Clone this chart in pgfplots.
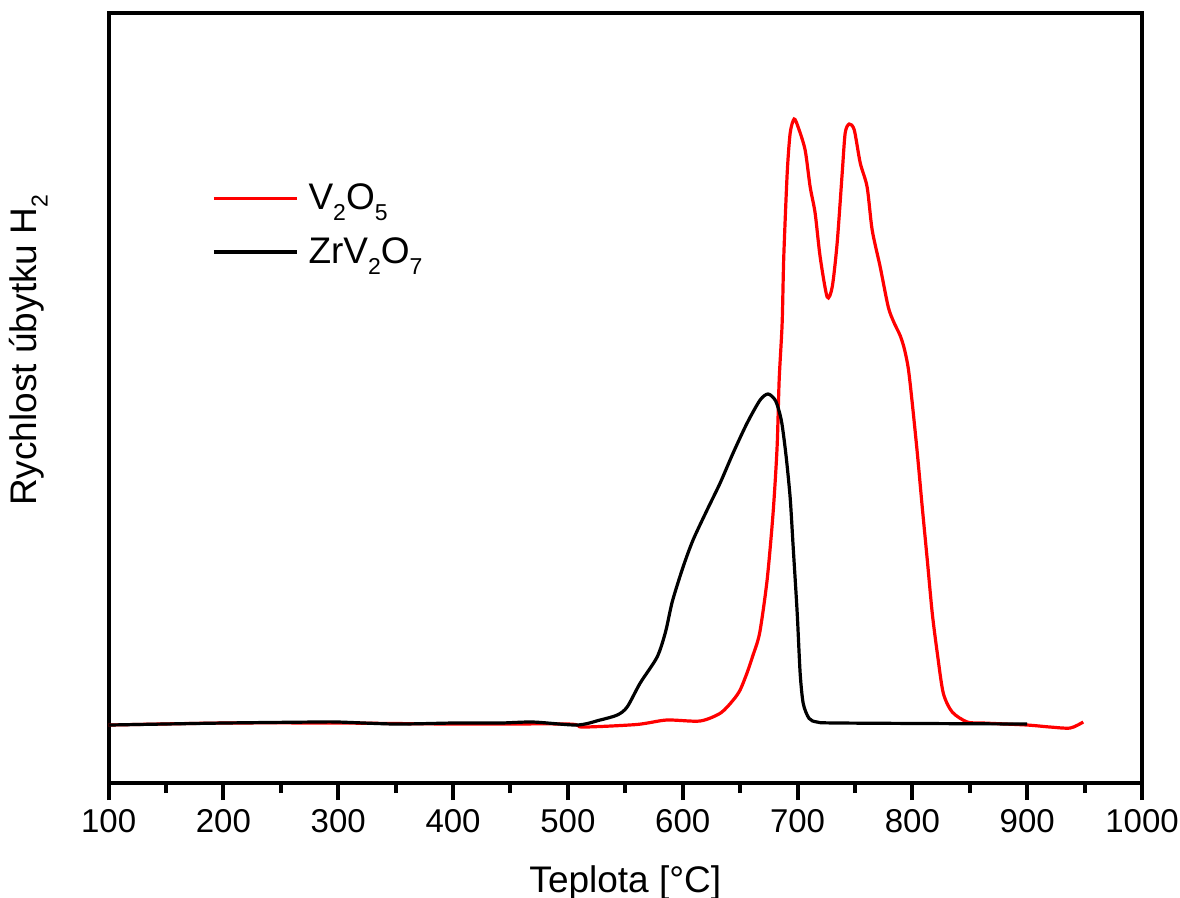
\documentclass[border=0pt]{standalone}
\usepackage{fontspec}
\setmainfont{Liberation Sans}
\usepackage{pgfplots}
\usepackage{pgfplotstable}
\pgfplotsset{compat=1.18}
\newcommand{\sub}[1]{\raisebox{-5.5pt}{\fontsize{11.5}{12}\selectfont #1}}

\pgfplotstableread{
T y
100 7.53
200 7.79
300 7.79
400 7.66
500 7.66
513 7.27
560 7.6
586 8.18
615 8.05
633 9.09
644 10.78
650 12.08
656 14.29
661 16.5
667 19.48
673.5 26.36
678.7 35.06
682.2 43.64
684 52.34
686.6 59.74
688 68.31
691 79.22
693.6 84.42
697 86.23
700.5 85.19
706.6 82.21
711 77.40
715.3 74.03
719.7 68.31
725.8 63.12
730.2 64.42
734.5 70.13
738.9 79.22
741.5 84.42
745 85.58
749.4 84.81
754.6 80.52
760.6 77.40
765 71.82
772 67.01
779 61.82
784 59.8
789.4 58.1
793 56.4
796.5 53.8
799.9 49.35
804.3 42.86
808.6 35.84
813 28.96
817.3 22.08
821.7 16.88
826.9 11.69
834.7 9.22
847.8 7.92
861.7 7.79
900 7.53
920 7.27
937.5 7.14
948.8 7.92
}\vfive

\pgfplotstableread{
T y
100 7.53
200 7.79
280 7.92
300 7.92
350 7.66
400 7.79
441 7.79
469.7 7.92
508 7.53
528 8.18
543 8.83
551.6 9.87
563 12.99
577.7 16.36
585 19.6
591 23.6
600.3 28.05
609 31.56
621.2 35.45
632.6 38.96
643.9 42.86
656.1 46.75
667.4 49.74
674.4 50.52
681 49.6
686 47.0
690 42.5
693.6 37.0
696.2 30.65
699.7 22.08
702.3 14.2
705 10.3
710 8.4
717 7.92
737 7.79
900 7.66
}\zrv

\begin{document}
\begin{tikzpicture}
\begin{axis}[
  scale only axis,
  width=516.7pt, height=385pt,
  xmin=100, xmax=1000, ymin=0, ymax=100,
  xtick={100,200,...,1000},
  minor x tick num=1,
  ytick=\empty,
  xtick pos=left,
  tick align=outside,
  major tick length=8.5pt,
  minor tick length=5pt,
  every tick/.style={line width=2pt, black},
  axis line style={line width=2pt},
  /pgf/number format/assume math mode=true,
  /pgf/number format/1000 sep={},
  xticklabel style={font=\fontsize{16.5}{19}\selectfont, yshift=-1pt},
  xlabel={Teplota [°C]},
  ylabel={Rychlost úbytku H\sub{2}},
  xlabel style={font=\fontsize{18.5}{22}\selectfont, at={(axis description cs:0.5,0)}, anchor=base, yshift=-54.5pt},
  ylabel style={font=\fontsize{18.5}{22}\selectfont, at={(axis description cs:-0.0774,0.562)}, anchor=center},
  legend image code/.code={\draw[#1] (0pt,0pt) -- (41.5pt,0pt); \path (44.5pt,0pt);},
  legend style={at={(axis description cs:0.1,0.784)}, anchor=north west, draw=none, fill=none, inner sep=0pt,
    font=\fontsize{18.5}{22}\selectfont, row sep=8.5pt},
  legend cell align=left,
]
\addplot[red, line width=1.6pt, smooth, tension=0.45] table[x=T,y=y] {\vfive};
\addlegendentry{V\sub{2}O\sub{5}}
\addplot[black, line width=1.6pt, smooth, tension=0.45] table[x=T,y=y] {\zrv};
\addlegendentry{ZrV\sub{2}O\sub{7}}
\end{axis}
\pgfresetboundingbox
\path[use as bounding box] (current axis.south west) ++(-54.3pt,-57pt) rectangle ([shift={(19pt,6.5pt)}]current axis.north east);
\end{tikzpicture}
\end{document}
